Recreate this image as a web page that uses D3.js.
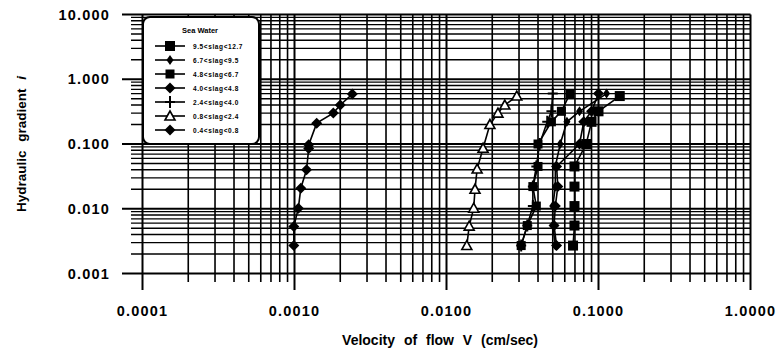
<!DOCTYPE html>
<html>
<head>
<meta charset="utf-8">
<title>Hydraulic gradient vs velocity of flow</title>
<script src="https://d3js.org/d3.v7.min.js"></script>
<style>
  body { margin: 0; background: #fff; }
  text { font-family: "Liberation Sans", Arial, sans-serif; fill: #000; }
</style>
</head>
<body>
<div id="chart"></div>
<script type="text/javascript">
  let w = 783;
  let h = 356;

  // tick labels
  let xTicks = [0.0001, 0.001, 0.01, 0.1, 1];
  let xTickLabels = ["0.0001", "0.0010", "0.0100", "0.1000", "1.0000"];
  let yTicks = [0.001, 0.01, 0.1, 1, 10];
  let yTickLabels = ["0.001", "0.010", "0.100", "1.000", "10.000"];

  let seriesNames = ["9.5<slag<12.7", "6.7<slag<9.5", "4.8<slag<6.7", "4.0<slag<4.8",
                     "2.4<slag<4.0", "0.8<slag<2.4", "0.4<slag<0.8"];
  let seriesSymbols = ["bigsquare", "smalldiamond", "square", "diamond", "plus", "triangle", "diamond"];

  // [velocity cm/sec, hydraulic gradient]
  let s1 = [[0.068, 0.0027], [0.0695, 0.0055], [0.0695, 0.011], [0.0695, 0.022], [0.0695, 0.045],
            [0.083, 0.1], [0.09, 0.22], [0.1, 0.32], [0.138, 0.55]];
  let s2 = [[0.052, 0.0027], [0.05, 0.0055], [0.05, 0.011], [0.052, 0.022], [0.052, 0.045],
            [0.056, 0.1], [0.062, 0.22], [0.075, 0.32], [0.113, 0.6]];
  let s3 = [[0.031, 0.0027], [0.034, 0.0055], [0.039, 0.011], [0.037, 0.022], [0.04, 0.045],
            [0.04, 0.1], [0.049, 0.22], [0.057, 0.32], [0.065, 0.6]];
  let s4 = [[0.053, 0.0027], [0.051, 0.0055], [0.052, 0.011], [0.054, 0.022], [0.053, 0.045],
            [0.075, 0.1], [0.08, 0.22], [0.09, 0.32], [0.1, 0.6]];
  let s5 = [[0.031, 0.0027], [0.034, 0.0055], [0.037, 0.011], [0.037, 0.022], [0.039, 0.045],
            [0.041, 0.1], [0.046, 0.22], [0.049, 0.32], [0.05, 0.6]];
  let s6 = [[0.0136, 0.0027], [0.0141, 0.0054], [0.0151, 0.0102], [0.0154, 0.02], [0.0159, 0.041],
            [0.0174, 0.086], [0.0193, 0.2], [0.0218, 0.3], [0.0242, 0.4], [0.029, 0.55]];
  let s7 = [[0.00099, 0.0027], [0.00099, 0.0053], [0.00106, 0.0102], [0.0011, 0.0207], [0.0012, 0.04],
            [0.00124, 0.085], [0.00124, 0.097], [0.0014, 0.21], [0.0018, 0.3], [0.002, 0.4], [0.0024, 0.59]];
  let allSeries = [s1, s2, s3, s4, s5, s6, s7];

  let xScale = d3.scaleLog().domain([0.0001, 1]).range([142.5, 750.5]);
  let yScale = d3.scaleLog().domain([0.001, 10]).range([273.5, 14.5]);

  let isMajor = t => Math.abs(Math.log10(t) - Math.round(Math.log10(t))) < 1e-6;

  let svg = d3.select('#chart')
              .append('svg')
              .attr('width', w)
              .attr('height', h);

  // grid (log minor lines everywhere)
  let xGrid = xScale.ticks();
  let yGrid = yScale.ticks();

  svg.selectAll('line.hgrid')
     .data(yGrid)
     .enter()
     .append('line')
     .attr('class', 'hgrid')
     .attr('x1', d => isMajor(d) ? 122 : 131)
     .attr('x2', xScale.range()[1])
     .attr('y1', d => yScale(d))
     .attr('y2', d => yScale(d))
     .attr('stroke', '#000')
     .attr('stroke-width', d => isMajor(d) ? 2 : 1.3);

  svg.selectAll('line.vgrid')
     .data(xGrid)
     .enter()
     .append('line')
     .attr('class', 'vgrid')
     .attr('x1', d => xScale(d))
     .attr('x2', d => xScale(d))
     .attr('y1', yScale.range()[1])
     .attr('y2', d => isMajor(d) ? 290 : 282)
     .attr('stroke', '#000')
     .attr('stroke-width', d => isMajor(d) ? 2 : 1.6);

  // tick labels
  svg.selectAll('text.ylab')
     .data(yTicks)
     .enter()
     .append('text')
     .attr('class', 'ylab')
     .attr('x', 110)
     .attr('y', d => yScale(d) + 5)
     .attr('text-anchor', 'end')
     .attr('font-size', '14.5px')
     .attr('font-weight', 'bold')
     .attr('letter-spacing', '1.2px')
     .text((d, i) => yTickLabels[i]);

  svg.selectAll('text.xlab')
     .data(xTicks)
     .enter()
     .append('text')
     .attr('class', 'xlab')
     .attr('x', d => xScale(d))
     .attr('y', 316)
     .attr('text-anchor', 'middle')
     .attr('font-size', '14.5px')
     .attr('font-weight', 'bold')
     .attr('letter-spacing', '1.2px')
     .text((d, i) => xTickLabels[i]);

  // axis titles
  svg.append('text')
     .attr('x', 440)
     .attr('y', 345)
     .attr('text-anchor', 'middle')
     .attr('font-size', '14px')
     .attr('font-weight', 'bold')
     .attr('word-spacing', '5px')
     .text('Velocity of flow V (cm/sec)');

  let yTitle = svg.append('text')
     .attr('transform', 'translate(26,144) rotate(-90)')
     .attr('text-anchor', 'middle')
     .attr('font-size', '13.5px')
     .attr('font-weight', 'bold')
     .attr('word-spacing', '5px');
  yTitle.append('tspan').text('Hydraulic gradient ');
  yTitle.append('tspan').attr('font-style', 'italic').text('i');

  // markers
  function drawMarker(g, type) {
    if (type === 'bigsquare') {
      g.append('rect').attr('x', -5).attr('y', -5).attr('width', 10).attr('height', 10).attr('fill', '#000');
    } else if (type === 'square') {
      g.append('rect').attr('x', -4.5).attr('y', -4.5).attr('width', 9).attr('height', 9).attr('fill', '#000');
    } else if (type === 'diamond') {
      g.append('path').attr('d', 'M0,-5.5L5.5,0L0,5.5L-5.5,0Z').attr('fill', '#000');
    } else if (type === 'smalldiamond') {
      g.append('path').attr('d', 'M0,-5L3.5,0L0,5L-3.5,0Z').attr('fill', '#000');
    } else if (type === 'plus') {
      g.append('path').attr('d', 'M-5,0H5M0,-6V6').attr('stroke', '#000').attr('stroke-width', 2);
    } else if (type === 'triangle') {
      g.append('path').attr('d', 'M0,-5L5,4L-5,4Z').attr('fill', '#fff')
       .attr('stroke', '#000').attr('stroke-width', 1.6);
    }
  }

  let line = d3.line()
               .x(([v, i]) => xScale(v))
               .y(([v, i]) => yScale(i));

  allSeries.forEach((data, k) => {
    let g = svg.append('g');
    g.append('path')
     .datum(data)
     .attr('d', line)
     .attr('fill', 'none')
     .attr('stroke', '#000')
     .attr('stroke-width', 1.6);
    g.selectAll('g.pt')
     .data(data)
     .enter()
     .append('g')
     .attr('class', 'pt')
     .attr('transform', ([v, i]) => `translate(${xScale(v)},${yScale(i)})`)
     .each(function() { drawMarker(d3.select(this), seriesSymbols[k]); });
  });

  // legend
  let legend = svg.append('g');
  legend.append('rect')
        .attr('x', 143)
        .attr('y', 17)
        .attr('width', 116)
        .attr('height', 127)
        .attr('rx', 7)
        .attr('fill', '#fff')
        .attr('stroke', '#000')
        .attr('stroke-width', 2);
  legend.append('text')
        .attr('x', 200)
        .attr('y', 33)
        .attr('text-anchor', 'middle')
        .attr('font-size', '7.5px')
        .attr('font-weight', 'bold')
        .text('Sea Water');

  let rows = legend.selectAll('g.row')
        .data(seriesNames)
        .enter()
        .append('g')
        .attr('class', 'row')
        .attr('transform', (d, k) => `translate(0,${46 + k * 14})`);
  rows.append('line')
      .attr('x1', 155).attr('x2', 185)
      .attr('y1', 0).attr('y2', 0)
      .attr('stroke', '#000')
      .attr('stroke-width', 1.6);
  rows.append('g')
      .attr('transform', 'translate(170,0)')
      .each(function(d, k) { drawMarker(d3.select(this), seriesSymbols[k]); });
  rows.append('text')
      .attr('x', 193)
      .attr('y', 2.5)
      .attr('font-size', '6.5px')
      .attr('font-weight', 'bold')
      .attr('letter-spacing', '0.6px')
      .text(d => d);
</script>
</body>
</html>
